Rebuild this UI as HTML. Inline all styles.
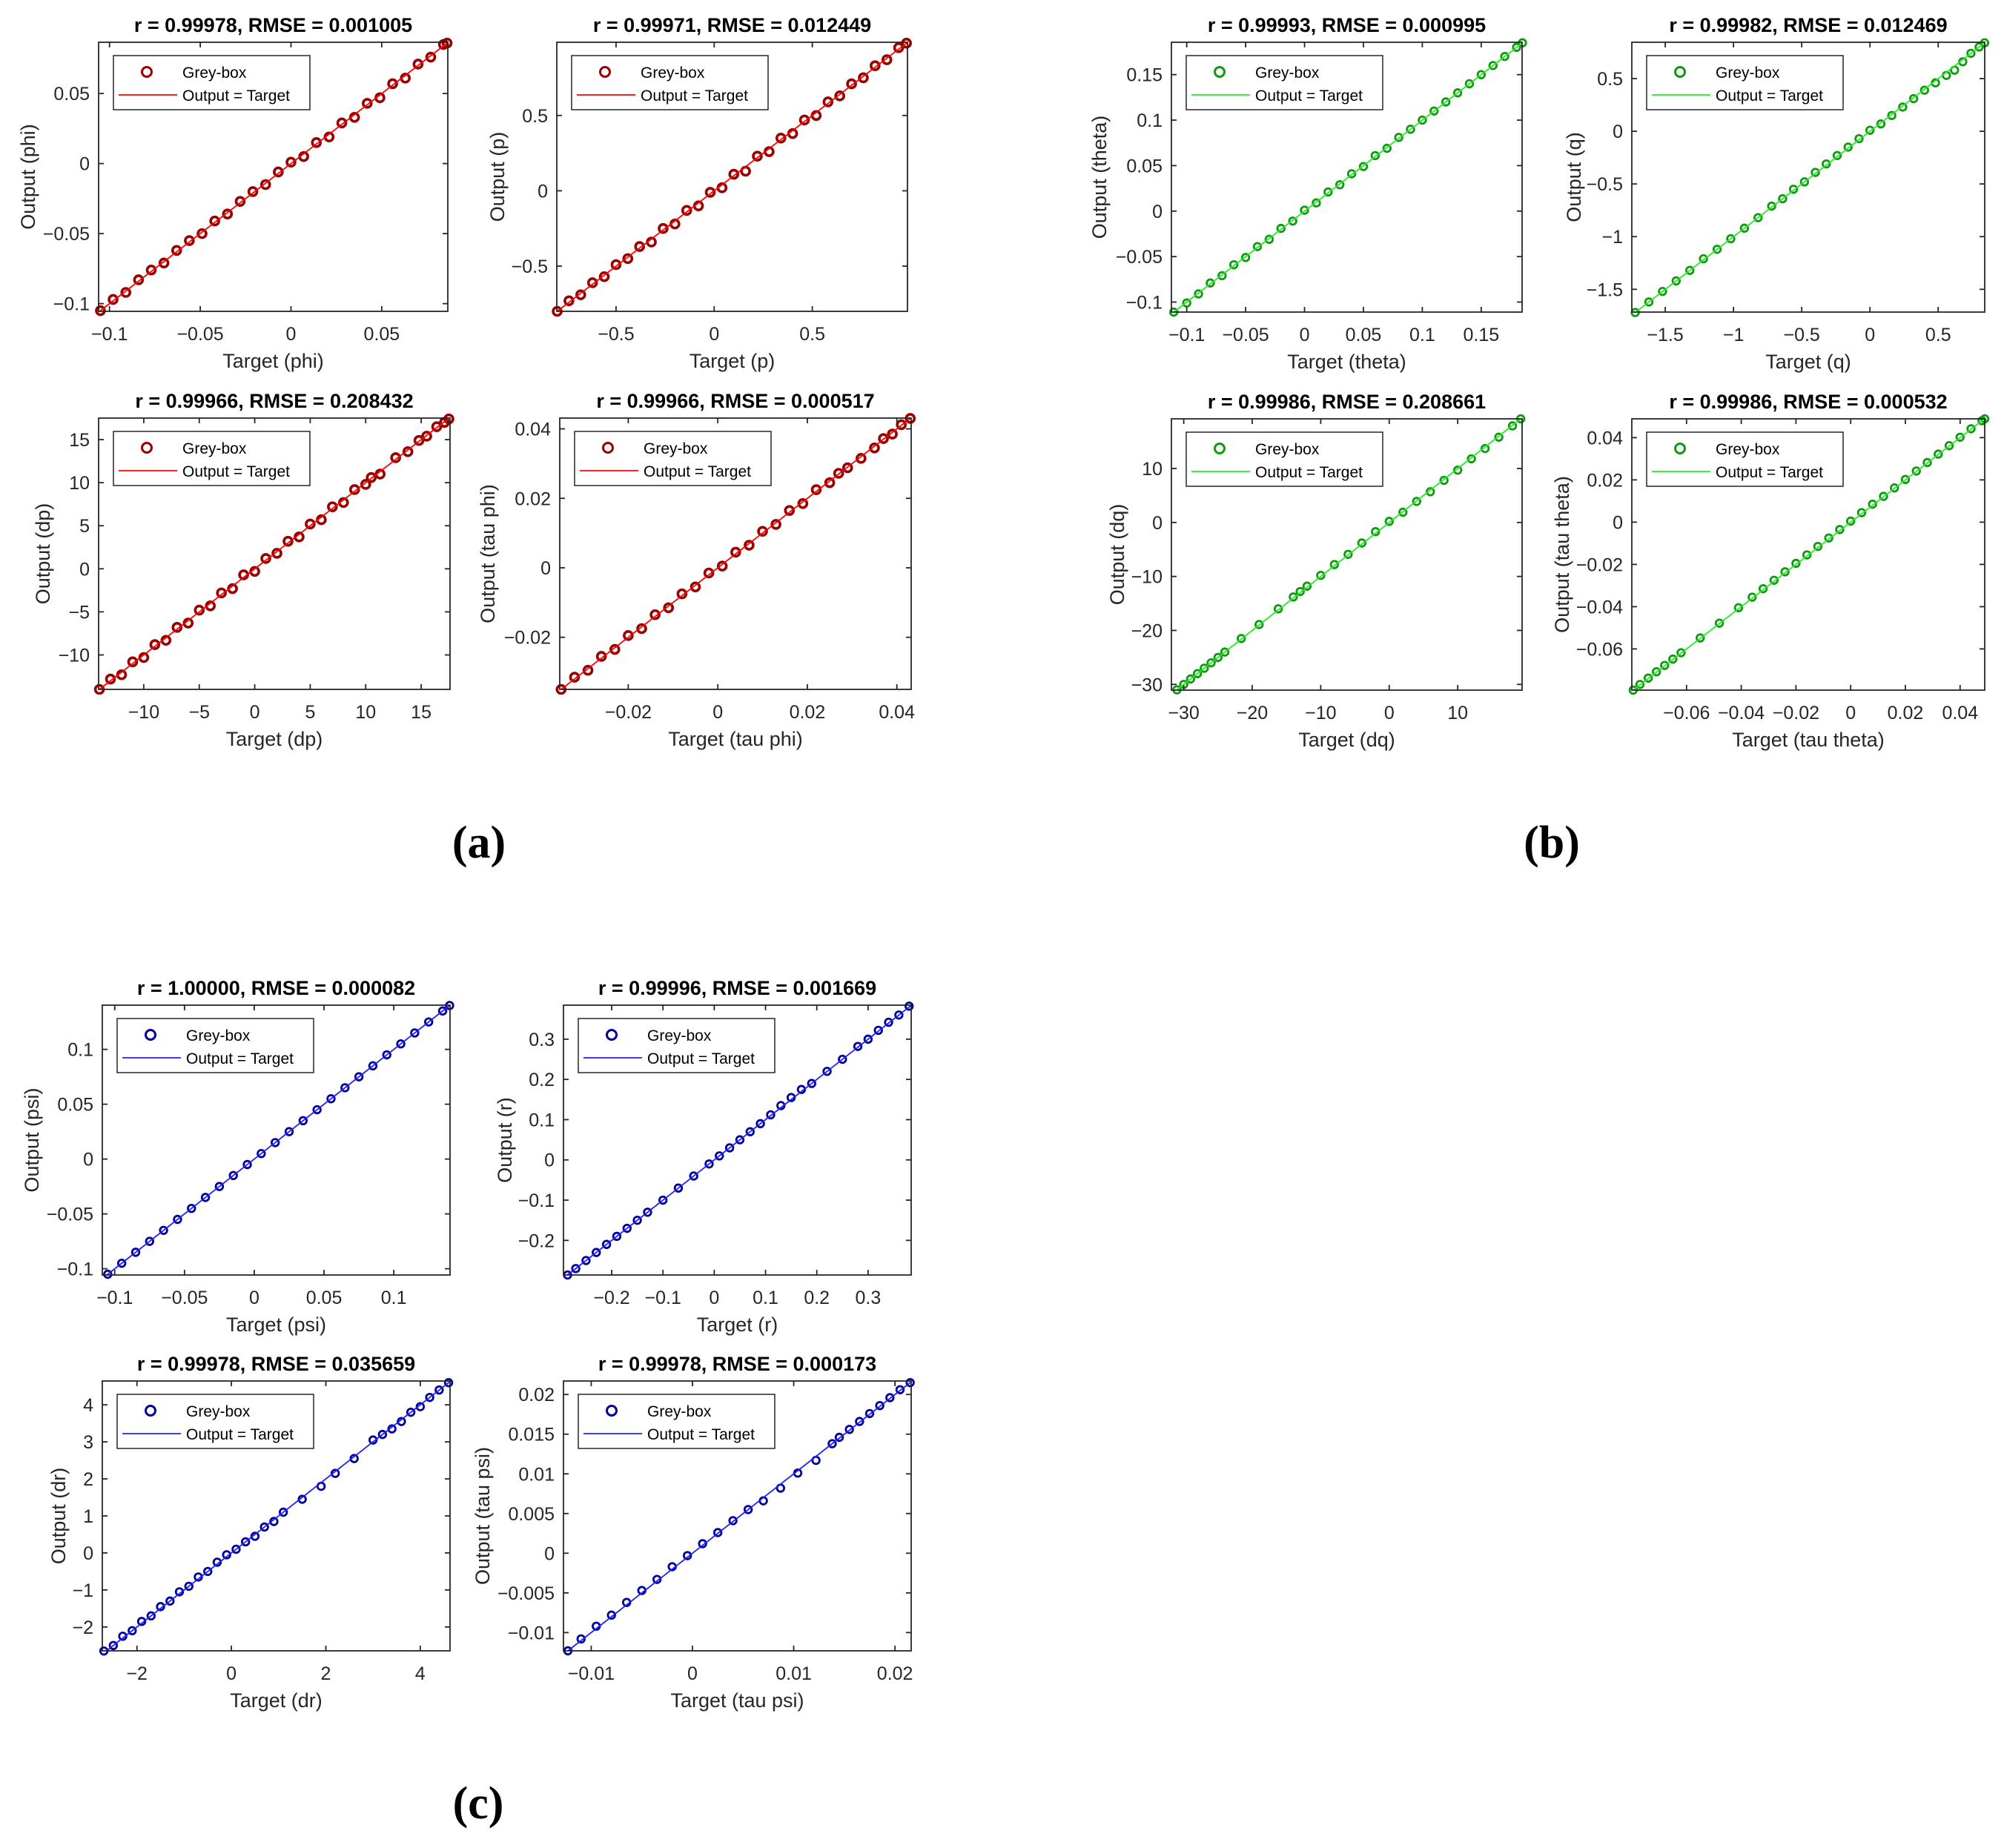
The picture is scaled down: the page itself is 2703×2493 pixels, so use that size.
<!DOCTYPE html>
<html><head><meta charset="utf-8"><title>Grey-box regression plots</title>
<style>
html,body{margin:0;padding:0;background:#fff;}
svg{display:block;font-family:"Liberation Sans",sans-serif;}
</style></head>
<body>
<svg id="fig" width="2703" height="2493" viewBox="0 0 2703 2493" xmlns="http://www.w3.org/2000/svg">
<rect x="0" y="0" width="2703" height="2493" fill="#fff"/>
<text x="646" y="1157" font-family="Liberation Serif, serif" font-weight="bold" font-size="62" text-anchor="middle">(a)</text>
<text x="2093" y="1157" font-family="Liberation Serif, serif" font-weight="bold" font-size="62" text-anchor="middle">(b)</text>
<text x="645" y="2453" font-family="Liberation Serif, serif" font-weight="bold" font-size="62" text-anchor="middle">(c)</text>
</svg>
<script>
// ---- data (target, output) per panel ----
const phiT=[-0.105,-0.098,-0.091,-0.084,-0.077,-0.070,-0.063,-0.056,-0.049,-0.042,-0.035,-0.028,-0.021,-0.014,-0.007,0.000,0.007,0.014,0.021,0.028,0.035,0.042,0.049,0.056,0.063,0.070,0.077,0.084,0.086];
const phiO=[-0.105,-0.097,-0.092,-0.083,-0.076,-0.071,-0.062,-0.055,-0.050,-0.041,-0.036,-0.027,-0.020,-0.015,-0.006,0.001,0.005,0.015,0.019,0.029,0.033,0.043,0.047,0.057,0.061,0.071,0.076,0.085,0.086];
const pT=[-0.80,-0.74,-0.68,-0.62,-0.56,-0.50,-0.44,-0.38,-0.32,-0.26,-0.20,-0.14,-0.08,-0.02,0.04,0.10,0.16,0.22,0.28,0.34,0.40,0.46,0.52,0.58,0.64,0.70,0.76,0.82,0.88,0.94,0.98];
const pO=[-0.80,-0.73,-0.69,-0.61,-0.57,-0.49,-0.45,-0.37,-0.34,-0.25,-0.22,-0.13,-0.10,-0.01,0.02,0.11,0.13,0.23,0.26,0.35,0.38,0.47,0.50,0.59,0.63,0.71,0.75,0.83,0.87,0.95,0.98];
const dpT=[-14,-13,-12,-11,-10,-9,-8,-7,-6,-5,-4,-3,-2,-1,0,1,2,3,4,5,6,7,8,9,10,10.5,11.3,12.7,13.8,14.8,15.5,16.4,17.1,17.5];
const dpO=[-14,-12.8,-12.3,-10.8,-10.3,-8.8,-8.3,-6.8,-6.3,-4.8,-4.3,-2.8,-2.3,-0.7,-0.3,1.2,1.8,3.2,3.7,5.2,5.7,7.2,7.7,9.2,9.8,10.6,11.0,12.9,13.6,14.9,15.4,16.5,17.0,17.4];
const tphiT=[-0.035,-0.032,-0.029,-0.026,-0.023,-0.020,-0.017,-0.014,-0.011,-0.008,-0.005,-0.002,0.001,0.004,0.007,0.010,0.013,0.016,0.019,0.022,0.025,0.027,0.029,0.032,0.035,0.037,0.039,0.041,0.043];
const tphiO=[-0.035,-0.0315,-0.0295,-0.0255,-0.0235,-0.0195,-0.0175,-0.0135,-0.0115,-0.0075,-0.0055,-0.0015,0.0005,0.0045,0.0065,0.0105,0.0125,0.0165,0.0185,0.0225,0.0245,0.0272,0.0288,0.0315,0.0345,0.0372,0.0385,0.0412,0.0430];
const thT=[-0.111,-0.10,-0.09,-0.08,-0.07,-0.06,-0.05,-0.04,-0.03,-0.02,-0.01,0,0.01,0.02,0.03,0.04,0.05,0.06,0.07,0.08,0.09,0.10,0.11,0.12,0.13,0.14,0.15,0.16,0.17,0.18,0.185];
const thO=[-0.111,-0.101,-0.091,-0.079,-0.071,-0.059,-0.051,-0.039,-0.031,-0.019,-0.011,0.001,0.009,0.021,0.029,0.041,0.049,0.061,0.069,0.081,0.090,0.100,0.110,0.120,0.130,0.140,0.150,0.160,0.170,0.180,0.185];
const qT=[-1.72,-1.62,-1.52,-1.42,-1.32,-1.22,-1.12,-1.02,-0.92,-0.82,-0.72,-0.64,-0.56,-0.48,-0.40,-0.32,-0.24,-0.16,-0.08,0,0.08,0.16,0.24,0.32,0.40,0.48,0.56,0.62,0.68,0.74,0.80,0.84];
const qO=[-1.72,-1.62,-1.52,-1.42,-1.32,-1.21,-1.12,-1.02,-0.92,-0.82,-0.71,-0.64,-0.55,-0.48,-0.39,-0.31,-0.23,-0.15,-0.07,0.01,0.07,0.15,0.23,0.31,0.39,0.46,0.53,0.58,0.66,0.74,0.80,0.84];
const dqT=[-31,-30,-29,-28,-27,-26,-25,-24,-21.6,-19,-16.2,-14,-13,-12,-10,-8,-6,-4,-2,0,2,4,6,8,10,12,14,16,18,19.2];
const dqO=[-31,-30,-29,-28,-27,-26,-25,-24,-21.5,-18.9,-16,-13.8,-12.8,-11.8,-9.8,-7.8,-5.9,-3.8,-1.7,0.2,1.9,3.9,5.7,7.8,9.7,11.8,13.7,15.8,17.9,19.2];
const tthT=[-0.0795,-0.077,-0.074,-0.071,-0.068,-0.065,-0.062,-0.055,-0.048,-0.041,-0.036,-0.032,-0.028,-0.024,-0.020,-0.016,-0.012,-0.008,-0.004,0,0.004,0.008,0.012,0.016,0.020,0.024,0.028,0.032,0.036,0.040,0.044,0.048,0.049];
const tthO=[-0.0795,-0.0768,-0.0738,-0.0708,-0.0678,-0.0648,-0.0618,-0.0548,-0.0478,-0.0405,-0.0355,-0.0315,-0.0275,-0.0235,-0.0195,-0.0155,-0.0115,-0.0075,-0.0035,0.0005,0.0045,0.0085,0.0122,0.0162,0.0202,0.0242,0.0282,0.0322,0.0362,0.0402,0.0442,0.0480,0.0489];
const psiT=[-0.105,-0.095,-0.085,-0.075,-0.065,-0.055,-0.045,-0.035,-0.025,-0.015,-0.005,0.005,0.015,0.025,0.035,0.045,0.055,0.065,0.075,0.085,0.095,0.105,0.115,0.125,0.135,0.14];
const psiO=[-0.105,-0.095,-0.085,-0.075,-0.065,-0.055,-0.045,-0.035,-0.025,-0.015,-0.005,0.005,0.015,0.025,0.035,0.045,0.055,0.065,0.075,0.085,0.095,0.105,0.115,0.125,0.135,0.14];
const rT=[-0.286,-0.27,-0.25,-0.23,-0.21,-0.19,-0.17,-0.15,-0.13,-0.10,-0.07,-0.04,-0.01,0.01,0.03,0.05,0.07,0.09,0.11,0.13,0.15,0.17,0.19,0.22,0.25,0.28,0.30,0.32,0.34,0.36,0.38];
const rO=[-0.286,-0.27,-0.25,-0.23,-0.21,-0.19,-0.17,-0.15,-0.13,-0.10,-0.07,-0.04,-0.01,0.01,0.03,0.05,0.07,0.09,0.112,0.135,0.155,0.175,0.19,0.22,0.25,0.282,0.30,0.322,0.342,0.36,0.382];
const drT=[-2.7,-2.5,-2.3,-2.1,-1.9,-1.7,-1.5,-1.3,-1.1,-0.9,-0.7,-0.5,-0.3,-0.1,0.1,0.3,0.5,0.7,0.9,1.1,1.5,1.9,2.2,2.6,3.0,3.2,3.4,3.6,3.8,4.0,4.2,4.4,4.6];
const drO=[-2.65,-2.5,-2.25,-2.1,-1.85,-1.7,-1.45,-1.3,-1.05,-0.9,-0.65,-0.5,-0.25,-0.05,0.1,0.3,0.45,0.7,0.85,1.1,1.45,1.8,2.15,2.55,3.05,3.2,3.35,3.55,3.8,3.95,4.2,4.4,4.6];
const tpsT=[-0.0123,-0.011,-0.0095,-0.008,-0.0065,-0.005,-0.0035,-0.002,-0.0005,0.001,0.0025,0.004,0.0055,0.007,0.0087,0.0104,0.0122,0.0138,0.0145,0.0155,0.0165,0.0175,0.0185,0.0195,0.0205,0.0215];
const tpsO=[-0.0123,-0.0108,-0.0092,-0.0078,-0.0062,-0.0047,-0.0033,-0.0017,-0.0003,0.0012,0.0026,0.0041,0.0055,0.0066,0.0082,0.0101,0.0117,0.0138,0.0146,0.0156,0.0166,0.0176,0.0186,0.0196,0.0206,0.0215];

// ---- tick values & labels ----
const phiTicks=[-0.1,-0.05,0,0.05], phiLabels=["\u22120.1","\u22120.05","0","0.05"];
const pTicks=[-0.5,0,0.5], pLabels=["\u22120.5","0","0.5"];
const dpTicks=[-10,-5,0,5,10,15], dpLabels=["\u221210","\u22125","0","5","10","15"];
const tphiTicks=[-0.02,0,0.02,0.04], tphiLabels=["\u22120.02","0","0.02","0.04"];
const thTicks=[-0.1,-0.05,0,0.05,0.1,0.15], thLabels=["\u22120.1","\u22120.05","0","0.05","0.1","0.15"];
const qTicks=[-1.5,-1,-0.5,0,0.5], qLabels=["\u22121.5","\u22121","\u22120.5","0","0.5"];
const dqTicks=[-30,-20,-10,0,10], dqLabels=["\u221230","\u221220","\u221210","0","10"];
const tthTicks=[-0.06,-0.04,-0.02,0,0.02,0.04], tthLabels=["\u22120.06","\u22120.04","\u22120.02","0","0.02","0.04"];
const psiTicks=[-0.1,-0.05,0,0.05,0.1], psiLabels=["\u22120.1","\u22120.05","0","0.05","0.1"];
const rTicks=[-0.2,-0.1,0,0.1,0.2,0.3], rLabels=["\u22120.2","\u22120.1","0","0.1","0.2","0.3"];
const drXTicks=[-2,0,2,4], drXLabels=["\u22122","0","2","4"];
const drYTicks=[-2,-1,0,1,2,3,4], drYLabels=["\u22122","\u22121","0","1","2","3","4"];
const tpsXTicks=[-0.01,0,0.01,0.02], tpsXLabels=["\u22120.01","0","0.01","0.02"];
const tpsYTicks=[-0.01,-0.005,0,0.005,0.01,0.015,0.02], tpsYLabels=["\u22120.01","\u22120.005","0","0.005","0.01","0.015","0.02"];

const NS="http://www.w3.org/2000/svg";
const svg=document.getElementById('fig');
function mk(tag,attrs,parent){const e=document.createElementNS(NS,tag);for(const k in attrs)e.setAttribute(k,attrs[k]);(parent||svg).appendChild(e);return e;}

const RED={m:"#990000",l:"#ff0000",r:5.5,w:3.6},GRN={m:"#109910",l:"#22ee22",r:4.8,w:2.8},BLU={m:"#00009a",l:"#2020ff",r:4.8,w:2.8};
const panels=[
 {id:"phi",L:133,R:604,T:57,B:420,xd:[-0.106,0.0864],yd:[-0.1055,0.0866],t:phiT,o:phiO,xt:phiTicks,xl:phiLabels,yt:phiTicks,yl:phiLabels,title:"r = 0.99978, RMSE = 0.001005",xlab:"Target (phi)",ylab:"Output (phi)",yo:95,c:RED},
 {id:"p",L:751,R:1224,T:57,B:420,xd:[-0.802,0.985],yd:[-0.80,0.986],t:pT,o:pO,xt:pTicks,xl:pLabels,yt:pTicks,yl:pLabels,title:"r = 0.99971, RMSE = 0.012449",xlab:"Target (p)",ylab:"Output (p)",yo:80,c:RED},
 {id:"dp",L:133,R:607,T:564,B:930,xd:[-14.07,17.6],yd:[-14.0,17.5],t:dpT,o:dpO,xt:dpTicks,xl:dpLabels,yt:dpTicks,yl:dpLabels,title:"r = 0.99966, RMSE = 0.208432",xlab:"Target (dp)",ylab:"Output (dp)",yo:75,c:RED},
 {id:"tau-phi",L:755,R:1229,T:564,B:930,xd:[-0.0353,0.0432],yd:[-0.035,0.0431],t:tphiT,o:tphiO,xt:tphiTicks,xl:tphiLabels,yt:tphiTicks,yl:tphiLabels,title:"r = 0.99966, RMSE = 0.000517",xlab:"Target (tau phi)",ylab:"Output (tau phi)",yo:97,c:RED},
 {id:"theta",L:1580,R:2053,T:57,B:421,xd:[-0.113,0.1847],yd:[-0.111,0.1856],t:thT,o:thO,xt:thTicks,xl:thLabels,yt:thTicks,yl:thLabels,title:"r = 0.99993, RMSE = 0.000995",xlab:"Target (theta)",ylab:"Output (theta)",yo:97,c:GRN},
 {id:"q",L:2201,R:2677,T:57,B:421,xd:[-1.745,0.841],yd:[-1.716,0.845],t:qT,o:qO,xt:qTicks,xl:qLabels,yt:qTicks,yl:qLabels,title:"r = 0.99982, RMSE = 0.012469",xlab:"Target (q)",ylab:"Output (q)",yo:78,c:GRN},
 {id:"dq",L:1580,R:2053,T:565,B:931,xd:[-31.8,19.4],yd:[-31.06,19.2],t:dqT,o:dqO,xt:dqTicks,xl:dqLabels,yt:dqTicks,yl:dqLabels,title:"r = 0.99986, RMSE = 0.208661",xlab:"Target (dq)",ylab:"Output (dq)",yo:73,c:GRN},
 {id:"tau-theta",L:2201,R:2677,T:565,B:931,xd:[-0.08,0.049],yd:[-0.0795,0.0489],t:tthT,o:tthO,xt:tthTicks,xl:tthLabels,yt:tthTicks,yl:tthLabels,title:"r = 0.99986, RMSE = 0.000532",xlab:"Target (tau theta)",ylab:"Output (tau theta)",yo:94,c:GRN},
 {id:"psi",L:138,R:607,T:1356,B:1720,xd:[-0.1089,0.1403],yd:[-0.1057,0.1403],t:psiT,o:psiO,xt:psiTicks,xl:psiLabels,yt:psiTicks,yl:psiLabels,title:"r = 1.00000, RMSE = 0.000082",xlab:"Target (psi)",ylab:"Output (psi)",yo:95,c:BLU},
 {id:"r",L:760,R:1229,T:1356,B:1720,xd:[-0.294,0.384],yd:[-0.286,0.3845],t:rT,o:rO,xt:rTicks,xl:rLabels,yt:rTicks,yl:rLabels,title:"r = 0.99996, RMSE = 0.001669",xlab:"Target (r)",ylab:"Output (r)",yo:79,c:BLU},
 {id:"dr",L:138,R:607,T:1863,B:2227,xd:[-2.733,4.63],yd:[-2.644,4.644],t:drT,o:drO,xt:drXTicks,xl:drXLabels,yt:drYTicks,yl:drYLabels,title:"r = 0.99978, RMSE = 0.035659",xlab:"Target (dr)",ylab:"Output (dr)",yo:59,c:BLU},
 {id:"tau-psi",L:760,R:1229,T:1863,B:2227,xd:[-0.01274,0.0216],yd:[-0.0123,0.0217],t:tpsT,o:tpsO,xt:tpsXTicks,xl:tpsXLabels,yt:tpsYTicks,yl:tpsYLabels,title:"r = 0.99978, RMSE = 0.000173",xlab:"Target (tau psi)",ylab:"Output (tau psi)",yo:109,c:BLU}
];

const AX="#262626";
panels.forEach(P=>{
  const sx=v=>P.L+(v-P.xd[0])/(P.xd[1]-P.xd[0])*(P.R-P.L);
  const sy=v=>P.B-(v-P.yd[0])/(P.yd[1]-P.yd[0])*(P.B-P.T);
  const g=mk('g',{});
  
  
  const clipId='clip-'+P.id;
  const cp=mk('clipPath',{id:clipId},g);
  mk('rect',{x:P.L-7,y:P.T-7,width:P.R-P.L+14,height:P.B-P.T+14},cp);
  const bg=mk('rect',{x:P.L,y:P.T,width:P.R-P.L,height:P.B-P.T,fill:"#fff"},g);
  
  
  const dg=mk('g',{'clip-path':'url(#'+clipId+')'},g);
  
  
  for(let i=0;i<P.t.length;i++){
    const c=mk('circle',{cx:sx(P.t[i]),cy:sy(P.o[i]),r:P.c.r,fill:"none",stroke:P.c.m,'stroke-width':P.c.w},dg);
    
    
  }
  const lo=Math.max(P.xd[0],P.yd[0]),hi=Math.min(P.xd[1],P.yd[1]);
  const ln=mk('line',{x1:sx(lo),y1:sy(lo),x2:sx(hi),y2:sy(hi),stroke:P.c.l,'stroke-width':1.8},dg);
  
  
  const box=mk('rect',{x:P.L,y:P.T,width:P.R-P.L,height:P.B-P.T,fill:"none",stroke:AX,'stroke-width':1.8},g);
  
  
  P.xt.forEach((v,i)=>{
    const x=sx(v);
    mk('line',{x1:x,y1:P.B,x2:x,y2:P.B-7,stroke:AX,'stroke-width':1.8},g);
    mk('line',{x1:x,y1:P.T,x2:x,y2:P.T+7,stroke:AX,'stroke-width':1.8},g);
    const t=mk('text',{x:x,y:P.B+39,'font-size':25,fill:AX,'text-anchor':'middle'},g);
    t.textContent=P.xl[i];
    
    
  });
  P.yt.forEach((v,i)=>{
    const y=sy(v);
    mk('line',{x1:P.L,y1:y,x2:P.L+7,y2:y,stroke:AX,'stroke-width':1.8},g);
    mk('line',{x1:P.R,y1:y,x2:P.R-7,y2:y,stroke:AX,'stroke-width':1.8},g);
    const t=mk('text',{x:P.L-12,y:y+9,'font-size':25,fill:AX,'text-anchor':'end'},g);
    t.textContent=P.yl[i];
    
    
  });
  const xl=mk('text',{x:(P.L+P.R)/2,y:P.B+76,'font-size':27,fill:AX,'text-anchor':'middle'},g);
  xl.textContent=P.xlab;
  
  
  const yx=P.L-P.yo, yy=(P.T+P.B)/2;
  const yl=mk('text',{x:yx,y:yy,'font-size':27,fill:AX,'text-anchor':'middle','dominant-baseline':'central',transform:'rotate(-90 '+yx+' '+yy+')'},g);
  yl.textContent=P.ylab;
  
  
  const tt=mk('text',{x:(P.L+P.R)/2,y:P.T-14,'font-size':27,'font-weight':'bold',fill:"#000",'text-anchor':'middle'},g);
  tt.textContent=P.title;
  
  
  const lg=mk('g',{},g);
  
  
  const lx=P.L+20, ly=P.T+18;
  mk('rect',{x:lx,y:ly,width:265,height:73,fill:"#fff",stroke:AX,'stroke-width':1.5},lg);
  mk('circle',{cx:lx+45,cy:ly+22,r:6.5,fill:"none",stroke:P.c.m,'stroke-width':3},lg);
  mk('line',{x1:lx+7,y1:ly+53,x2:lx+86,y2:ly+53,stroke:P.c.l,'stroke-width':1.8},lg);
  const t1=mk('text',{x:lx+93,y:ly+30,'font-size':21,fill:"#000"},lg);
  t1.textContent="Grey-box";
  
  
  const t2=mk('text',{x:lx+93,y:ly+61,'font-size':21,fill:"#000"},lg);
  t2.textContent="Output = Target";
  
  
});
</script>
</body></html>
